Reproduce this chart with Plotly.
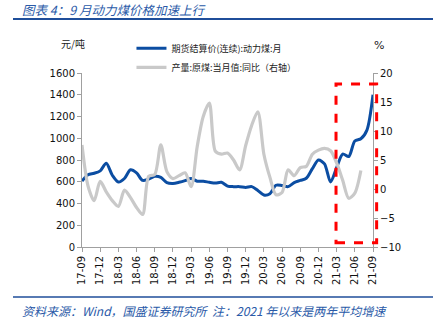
import plotly.graph_objects as go

# Monthly labels, 2017-09 through 2021-09
months = [f"{y % 100:02d}-{m:02d}" for y in range(2017, 2022) for m in range(1, 13)
          if (y, m) >= (2017, 9) and (y, m) <= (2021, 9)]
tick_labels = months[::3]

# Futures settlement price (continuous): thermal coal, yuan/ton
coal_price = [607, 665, 678, 700, 770, 660, 598, 630, 710, 682,
              612, 625, 650, 640, 592, 585, 595, 610, 630, 605,
              605, 595, 588, 595, 560, 555, 555, 548, 555, 520,
              478, 490, 568, 565, 555, 592, 612, 632, 720, 800,
              765, 598, 730, 855, 832, 975, 995, 1075, 1400]

# Raw coal output, monthly value, YoY % (right axis)
output_yoy = [7.6, 0.5, -2.0, 1.3, -0.5, -2.0, -3.0, -0.2, -1.5, -3.2,
              -4.4, 2.2, 2.5, 7.6, 3.0, 1.8, 2.3, 2.8, 0.4, 7.3,
              12.5, 14.8, 6.5, 6.0, 6.2, 5.0, 3.3, 7.5, 11.0, 13.3,
              6.0, 2.0, -1.0, -0.6, 3.3, 2.3, 3.7, 3.9, 6.0, 6.7,
              7.0, 6.6, 4.5, 1.5, -1.6, -0.7, 3.2, None]

highlight_start, highlight_end = 41.9, 48.6   # category index span (21-03 .. 21-09)
highlight_low, highlight_high = 40, 1500      # left-axis values

BLUE = "#0B4DA2"
GRAY = "#C9C9C9"
TEXT_BLUE = "#2A5AA8"
CJK = "Noto Sans CJK SC"

fig = go.Figure()
fig.add_trace(go.Scatter(
    x=months, y=coal_price, name="期货结算价(连续):动力煤:月",
    mode="lines", line=dict(color=BLUE, width=3, shape="spline", smoothing=0.8),
    yaxis="y"))
fig.add_trace(go.Scatter(
    x=months, y=output_yoy, name="产量:原煤:当月值:同比（右轴）",
    mode="lines", line=dict(color=GRAY, width=3.2, shape="spline", smoothing=0.8),
    yaxis="y2", connectgaps=False))

n = len(months) - 1
fig.add_shape(type="rect", xref="paper", yref="paper",
              x0=highlight_start / n, x1=highlight_end / n,
              y0=highlight_low / 1600, y1=highlight_high / 1600,
              line=dict(color="#FF0000", width=3, dash="dash"),
              fillcolor="rgba(0,0,0,0)")

# Header and footer rules
for yy in (19, 297):
    fig.add_shape(type="line", xref="paper", yref="paper",
                  x0=(13 - 82) / 291, x1=(433 - 82) / 291,
                  y0=1 + (73 - yy) / 174, y1=1 + (73 - yy) / 174,
                  line=dict(color="#1F4E9A", width=2 if yy == 19 else 1.5))

fig.add_annotation(text="<i>图表 4：9 月动力煤价格加速上行</i>", xref="paper", yref="paper",
                   x=(20 - 82) / 291, y=1 + (73 - 9) / 174, xanchor="left", yanchor="middle",
                   showarrow=False, font=dict(family=CJK, size=12.5, color=TEXT_BLUE))
fig.add_annotation(text="<i>资料来源：Wind，国盛证券研究所  注：2021 年以来是两年平均增速</i>",
                   xref="paper", yref="paper",
                   x=(20 - 82) / 291, y=1 + (73 - 310) / 174, xanchor="left", yanchor="middle",
                   showarrow=False, font=dict(family=CJK, size=12, color=TEXT_BLUE))
fig.add_annotation(text="元/吨", xref="paper", yref="paper",
                   x=(73 - 82) / 291, y=1 + (73 - 44) / 174, xanchor="center", yanchor="middle",
                   showarrow=False, font=dict(family=CJK, size=10, color="#222"))
fig.add_annotation(text="%", xref="paper", yref="paper",
                   x=(379 - 82) / 291, y=1 + (73 - 45) / 174, xanchor="center", yanchor="middle",
                   showarrow=False, font=dict(family="DejaVu Sans", size=11, color="#222"))

axis_common = dict(showgrid=False, zeroline=False, showline=True, linecolor="#A0A0A0",
                   linewidth=1, ticks="outside", ticklen=4, tickcolor="#A0A0A0",
                   tickfont=dict(family="DejaVu Sans", size=10, color="#111"))

fig.update_layout(
    width=433, height=326,
    margin=dict(l=82, r=60, t=73, b=79),
    paper_bgcolor="white", plot_bgcolor="white",
    showlegend=True,
    legend=dict(x=0.17, y=1.225, xanchor="left", yanchor="top",
                font=dict(family=CJK, size=9, color="#222"),
                bgcolor="rgba(0,0,0,0)", tracegroupgap=0, itemwidth=30),
    xaxis=dict(type="category", range=[0, n], tickmode="array",
               tickvals=tick_labels, ticktext=tick_labels, tickangle=-90,
               **axis_common),
    yaxis=dict(range=[0, 1600], dtick=200, **axis_common),
    yaxis2=dict(range=[-10, 20], dtick=5, overlaying="y", side="right", **axis_common),
)

fig.write_html("out.html")
